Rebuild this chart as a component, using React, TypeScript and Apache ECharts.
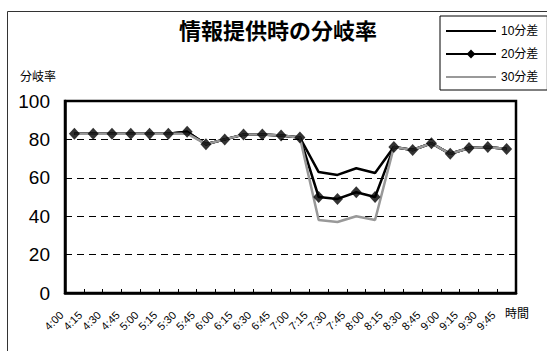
import { useEffect, useRef } from "react";
import * as echarts from "echarts";

// 15-minute time slots on the horizontal axis
const timeSlots = [
  "4:00", "4:15", "4:30", "4:45", "5:00", "5:15", "5:30", "5:45",
  "6:00", "6:15", "6:30", "6:45", "7:00", "7:15", "7:30", "7:45",
  "8:00", "8:15", "8:30", "8:45", "9:00", "9:15", "9:30", "9:45",
];

// Diversion rate (%) for each travel-time difference
const diff10 = [
  83, 83, 83, 83, 83, 83, 84, 77.5, 80, 82.5, 82.5, 82,
  81, 63, 61.5, 65, 62.5, 76, 74.5, 78, 72.5, 75.5, 76, 75,
];
const diff20 = [
  83, 83, 83, 83, 83, 83, 84, 77.5, 80, 82.5, 82.5, 82,
  81, 50, 49, 52.5, 50, 76, 74.5, 78, 72.5, 75.5, 76, 75,
];
const diff30 = [
  83, 83, 83, 83, 83, 83, 83, 77.5, 80, 82.5, 82.5, 82,
  81, 38, 37, 40, 38, 76, 74.5, 78, 72.5, 75.5, 76, 75,
];

const seriesNames = ["10分差", "20分差", "30分差"];
const yMin = 0;
const yMax = 100;
const yStep = 20;

const FONT = "'Liberation Sans', 'Noto Sans CJK JP', sans-serif";

// plot rectangle
const PLOT = { left: 65, top: 101, width: 451, height: 192 };
// the slanted time labels sit a little left of their slots
const LABEL_SHIFT = 13;

export default function App() {
  const ref = useRef<HTMLDivElement>(null);

  useEffect(() => {
    if (!ref.current) return;
    const chart = echarts.init(ref.current, null, { renderer: "svg" });
    const hiddenMarker = { opacity: 0 };
    chart.setOption({
      animation: false,
      backgroundColor: "#fff",
      textStyle: { fontFamily: FONT, color: "#000" },
      title: {
        text: "情報提供時の分岐率",
        left: 179,
        top: 20,
        padding: 0,
        textStyle: {
          fontFamily: FONT,
          fontSize: 22,
          fontWeight: "bold",
          color: "#000",
        },
      },
      legend: {
        data: [
          { name: seriesNames[0], itemStyle: hiddenMarker },
          { name: seriesNames[1] },
          { name: seriesNames[2], itemStyle: hiddenMarker },
        ],
        orient: "vertical",
        left: 440,
        top: 16,
        itemWidth: 50,
        itemHeight: 11,
        itemGap: 11,
        padding: [9, 9, 7, 5],
        borderColor: "#000",
        borderWidth: 1,
        backgroundColor: "#fff",
        textStyle: { fontFamily: FONT, fontSize: 12, color: "#000" },
      },
      grid: [
        {
          ...PLOT,
          show: true,
          borderColor: "#000",
          borderWidth: 2.5,
          backgroundColor: "transparent",
        },
        {
          ...PLOT,
          left: PLOT.left - LABEL_SHIFT,
          show: false,
        },
      ],
      xAxis: [
        {
          type: "category",
          gridIndex: 0,
          data: timeSlots,
          boundaryGap: true,
          axisLine: { show: true, lineStyle: { color: "#000", width: 2.5 } },
          axisTick: {
            show: true,
            inside: true,
            length: 4,
            interval: 0,
            lineStyle: { color: "#000", width: 1 },
          },
          axisLabel: { show: false },
          splitLine: { show: false },
        },
        {
          // carries only the time labels
          type: "category",
          gridIndex: 1,
          data: timeSlots,
          boundaryGap: true,
          axisLine: { show: false },
          axisTick: { show: false },
          axisLabel: {
            interval: 0,
            rotate: 45,
            margin: 20,
            fontFamily: FONT,
            fontSize: 11,
            color: "#000",
          },
          splitLine: { show: false },
        },
      ],
      yAxis: [
        {
          type: "value",
          gridIndex: 0,
          min: yMin,
          max: yMax,
          interval: yStep,
          axisLine: { show: true, lineStyle: { color: "#000", width: 2.5 } },
          axisTick: { show: false },
          axisLabel: {
            margin: 15,
            fontFamily: FONT,
            fontSize: 19,
            color: "#000",
          },
          splitLine: {
            show: true,
            lineStyle: { color: "#000", width: 1, type: [7, 5] },
          },
        },
        {
          type: "value",
          gridIndex: 1,
          min: yMin,
          max: yMax,
          interval: yStep,
          show: false,
        },
      ],
      graphic: [
        {
          type: "rect",
          z: -10,
          silent: true,
          shape: { x: 7.5, y: 11.5, width: 620, height: 420 },
          style: { fill: "none", stroke: "#333", lineWidth: 1 },
        },
        {
          type: "text",
          left: 20,
          top: 71,
          silent: true,
          style: {
            text: "分岐率",
            font: `12px ${FONT}`,
            fill: "#000",
          },
        },
        {
          type: "text",
          left: 505,
          top: 308,
          silent: true,
          style: {
            text: "時間",
            font: `12px ${FONT}`,
            fill: "#000",
          },
        },
      ],
      series: [
        {
          name: seriesNames[0],
          type: "line",
          data: diff10,
          symbol: "none",
          z: 2,
          lineStyle: { color: "#000", width: 2.5 },
          itemStyle: { color: "#000" },
          emphasis: { disabled: true },
        },
        {
          name: seriesNames[1],
          type: "line",
          data: diff20,
          symbol: "diamond",
          symbolSize: [11, 12],
          showSymbol: false,
          z: 3,
          lineStyle: { color: "#000", width: 2.5 },
          itemStyle: { color: "#000" },
          emphasis: { disabled: true },
        },
        {
          name: seriesNames[2],
          type: "line",
          data: diff30,
          symbol: "none",
          z: 4,
          lineStyle: { color: "#999", width: 2.5 },
          itemStyle: { color: "#999" },
          emphasis: { disabled: true },
        },
        {
          // diamond markers of the 20-minute series, kept above every line
          name: seriesNames[1],
          type: "scatter",
          data: diff20,
          symbol: "diamond",
          symbolSize: [11, 12],
          z: 5,
          itemStyle: { color: "#000" },
          emphasis: { disabled: true },
        },
      ],
    });
    return () => chart.dispose();
  }, []);

  return (
    <div
      ref={ref}
      style={{
        position: "absolute",
        left: 0,
        top: 0,
        width: 547,
        height: 351,
        background: "#fff",
      }}
    />
  );
}
